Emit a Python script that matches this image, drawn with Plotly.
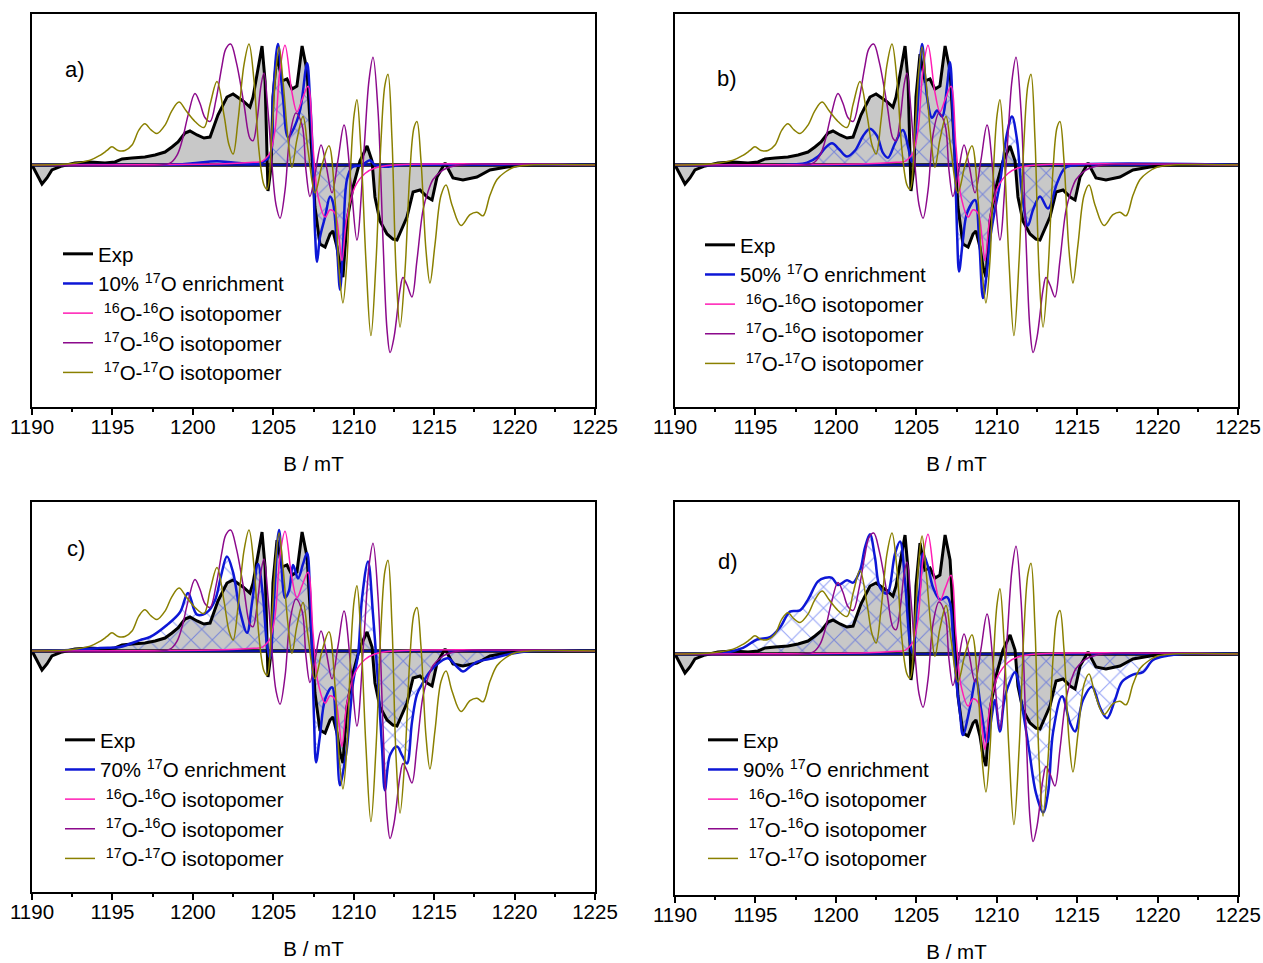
import plotly.graph_objects as go

# ---------------- data (B in mT, normalised derivative amplitude) ----------------
exp_B = [1190.00, 1190.62, 1190.93, 1191.24, 1191.87, 1192.67, 1193.61, 1194.54, 1195.16, 1195.60,
         1196.22, 1197.02, 1197.65, 1198.27, 1198.70, 1199.08, 1199.51, 1199.82, 1200.26, 1200.69,
         1201.07, 1201.56, 1202.12, 1202.50, 1203.12, 1203.55, 1203.74, 1204.05, 1204.30, 1204.49,
         1204.61, 1204.67, 1204.86, 1204.98, 1205.23, 1205.54, 1205.85, 1206.16, 1206.47, 1206.79,
         1207.10, 1207.28, 1207.59, 1207.90, 1208.22, 1208.53, 1208.71, 1208.96, 1209.15, 1209.33,
         1209.58, 1209.96, 1210.39, 1210.83, 1211.14, 1211.32, 1211.63, 1212.07, 1212.44, 1212.69,
         1213.31, 1213.69, 1214.12, 1214.56, 1214.87, 1215.18, 1215.68, 1216.17, 1216.79, 1217.66,
         1218.47, 1219.53, 1220.52, 1225.00]
exp_y = [0.0, -0.157, -0.107, -0.041, -0.008, 0.017, 0.025, 0.017, 0.025, 0.05,
         0.058, 0.066, 0.083, 0.107, 0.149, 0.19, 0.264, 0.281, 0.248, 0.223,
         0.231, 0.413, 0.562, 0.587, 0.529, 0.479, 0.56, 0.81, 0.983, 0.694,
         0.033, -0.215, -0.017, 0.562, 0.917, 0.694, 0.711, 0.628, 0.653, 0.983,
         0.777, 0.364, -0.347, -0.653, -0.678, -0.570, -0.545, -0.678, -0.843, -0.926,
         -0.463, -0.182, 0.033, 0.157, 0.033, -0.264, -0.463, -0.570, -0.612, -0.620,
         -0.430, -0.223, -0.207, -0.264, -0.289, -0.099, 0.017, -0.107, -0.124, -0.099,
         -0.041, -0.017, 0.0, 0.0]

o1616_B = [1190.0, 1202.0, 1203.5, 1204.30, 1204.49, 1204.80, 1205.11, 1205.42, 1205.73, 1206.16,
           1206.47, 1206.79, 1207.16, 1207.47, 1207.78, 1208.22, 1208.53, 1208.84, 1209.09, 1209.27,
           1209.58, 1210.08, 1210.70, 1211.32, 1212.5, 1225.0]
o1616_y = [0.0, 0.01, 0.02, 0.03, 0.05, 0.10, 0.29, 0.79, 0.99, 0.60,
           0.44, 0.54, 0.65, 0.15, -0.26, -0.43, -0.37, -0.40, -0.60, -0.79,
           -0.43, -0.18, -0.07, -0.025, 0.0, 0.0]

o1716_B = [1190.0, 1198.0, 1198.58, 1199.01, 1199.33, 1199.70, 1200.13, 1200.44, 1200.76, 1201.07,
           1201.44, 1201.81, 1202.05, 1202.35, 1202.70, 1203.18, 1203.55, 1203.74, 1203.99, 1204.24,
           1204.42, 1204.67, 1204.92, 1205.17, 1205.42, 1205.73, 1206.04, 1206.41, 1206.79, 1207.03,
           1207.28, 1207.59, 1207.97, 1208.28, 1208.65, 1209.02, 1209.40, 1209.83, 1210.20, 1210.64,
           1210.95, 1211.20, 1211.51, 1211.82, 1212.07, 1212.26, 1212.51, 1212.88, 1213.06, 1213.31,
           1213.62, 1213.93, 1214.31, 1214.62, 1214.93, 1215.36, 1215.80, 1216.61, 1225.0]
o1716_y = [0.0, 0.0, 0.015, 0.08, 0.20, 0.41, 0.59, 0.51, 0.39, 0.36,
           0.54, 0.82, 0.96, 1.0, 0.85, 0.50, 0.22, 0.20, 0.37, 0.66,
           0.76, 0.45, 0.0, -0.33, -0.44, -0.21, 0.25, 0.43, 0.33, -0.04,
           -0.26, -0.08, 0.165, 0.0, -0.23, 0.04, 0.33, -0.15, -0.62, 0.12,
           0.70, 0.89, 0.45, -0.62, -1.36, -1.55, -1.42, -1.03, -0.93, -0.99,
           -1.09, -0.79, -0.37, -0.22, -0.12, -0.06, -0.025, 0.0, 0.0]

o1717_B = [1190.0, 1192.36, 1193.61, 1194.23, 1194.66, 1194.97, 1195.35, 1195.78, 1196.22, 1196.65,
           1197.02, 1197.40, 1197.77, 1198.27, 1198.70, 1199.14, 1199.57, 1200.13, 1200.69, 1201.07,
           1201.50, 1201.94, 1202.25, 1202.50, 1202.81, 1203.18, 1203.49, 1203.80, 1204.11, 1204.42,
           1204.61, 1204.92, 1205.17, 1205.36, 1205.60, 1205.92, 1206.16, 1206.47, 1206.85, 1207.16,
           1207.59, 1208.03, 1208.46, 1208.84, 1209.09, 1209.33, 1209.58, 1209.83, 1210.02, 1210.20,
           1210.45, 1210.76, 1211.07, 1211.39, 1211.70, 1211.94, 1212.13, 1212.38, 1212.63, 1212.88,
           1213.19, 1213.50, 1213.75, 1213.93, 1214.18, 1214.49, 1214.74, 1215.05, 1215.43, 1215.74,
           1216.11, 1216.67, 1217.23, 1217.66, 1218.04, 1218.47, 1218.91, 1219.40, 1220.03, 1220.96,
           1225.0]
o1717_y = [0.0, 0.01, 0.04, 0.08, 0.12, 0.15, 0.12, 0.12, 0.165, 0.29,
           0.34, 0.29, 0.26, 0.33, 0.45, 0.52, 0.45, 0.36, 0.31, 0.50,
           0.69, 0.41, 0.165, 0.09, 0.37, 0.83, 1.0, 0.70, 0.12, -0.165,
           -0.20, 0.29, 0.79, 0.975, 0.70, 0.21, -0.02, 0.21, 0.40, 0.12,
           -0.23, 0.0, 0.16, -0.29, -0.87, -1.14, -0.79, 0.04, 0.41, 0.54,
           0.12, -0.79, -1.41, -0.79, 0.21, 0.66, 0.75, 0.21, -0.87, -1.34,
           -0.87, -0.04, 0.31, 0.36, 0.04, -0.70, -0.975, -0.66, -0.25, -0.165,
           -0.33, -0.50, -0.41, -0.39, -0.42, -0.25, -0.12, -0.06, -0.015, 0.0,
           0.0]

enr10_B = [1190.0, 1199.0, 1200.0, 1201.5, 1202.5, 1203.5, 1204.3, 1204.80, 1204.98, 1205.29,
           1205.60, 1205.92, 1206.23, 1206.66, 1207.10, 1207.28, 1207.47, 1207.59, 1207.72, 1207.90,
           1208.22, 1208.53, 1208.71, 1208.96, 1209.15, 1209.33, 1209.58, 1209.89, 1210.52, 1211.01,
           1211.32, 1211.94, 1213.0, 1225.0]
enr10_y = [0.0, 0.005, 0.015, 0.03, 0.02, 0.01, 0.02, 0.08, 0.56, 1.0,
           0.56, 0.23, 0.29, 0.45, 0.84, 0.56, 0.02, -0.54, -0.80, -0.60,
           -0.43, -0.26, -0.31, -0.68, -1.03, -0.68, -0.12, -0.02, 0.0, 0.04,
           0.0, -0.015, 0.0, 0.0]

enr50_B = [1190.0, 1197.34, 1198.21, 1198.89, 1199.33, 1199.76, 1200.20, 1200.69, 1201.19, 1201.69,
           1202.12, 1202.56, 1202.93, 1203.24, 1203.68, 1204.17, 1204.49, 1204.73, 1205.04, 1205.36,
           1205.67, 1205.98, 1206.29, 1206.60, 1206.91, 1207.10, 1207.28, 1207.41, 1207.53, 1207.66,
           1207.90, 1208.15, 1208.65, 1208.90, 1209.15, 1209.40, 1209.58, 1209.89, 1210.20, 1210.64,
           1210.95, 1211.26, 1211.57, 1211.94, 1212.26, 1212.69, 1213.19, 1213.75, 1214.25, 1215.0,
           1225.0]
enr50_y = [0.0, 0.005, 0.02, 0.07, 0.14, 0.18, 0.13, 0.07, 0.12, 0.24,
           0.30, 0.24, 0.10, 0.06, 0.18, 0.29, 0.15, 0.025, 0.40, 1.0,
           0.56, 0.39, 0.45, 0.40, 0.65, 0.85, 0.40, 0.0, -0.54, -0.88,
           -0.62, -0.40, -0.29, -0.60, -1.10, -0.87, -0.62, -0.37, -0.15, 0.26,
           0.40, 0.21, -0.23, -0.50, -0.37, -0.26, -0.36, -0.15, -0.025, 0.0,
           0.0]

enr70_B = [1190.0, 1191.74, 1194.23, 1195.47, 1196.71, 1197.34, 1198.39, 1199.20, 1199.70, 1200.26,
           1200.88, 1201.38, 1201.75, 1202.12, 1202.50, 1202.93, 1203.37, 1203.68, 1204.05, 1204.36,
           1204.61, 1204.80, 1205.04, 1205.36, 1205.73, 1205.98, 1206.23, 1206.54, 1206.85, 1207.10,
           1207.28, 1207.41, 1207.53, 1207.66, 1207.90, 1208.22, 1208.65, 1208.90, 1209.15, 1209.40,
           1209.58, 1209.96, 1210.27, 1210.52, 1210.89, 1211.20, 1211.51, 1211.76, 1211.94, 1212.26,
           1212.69, 1213.00, 1213.31, 1213.62, 1213.93, 1214.31, 1214.74, 1215.36, 1215.86, 1216.42,
           1216.79, 1217.23, 1217.66, 1218.66, 1219.72, 1221.0, 1225.0]
enr70_y = [0.0, 0.005, 0.025, 0.033, 0.09, 0.116, 0.215, 0.32, 0.48, 0.30,
           0.32, 0.42, 0.62, 0.78, 0.65, 0.33, 0.15, 0.40, 0.72, 0.45,
           0.05, -0.06, 0.40, 1.0, 0.44, 0.50, 0.71, 0.60, 0.72, 0.81,
           0.50, 0.0, -0.55, -0.92, -0.70, -0.40, -0.30, -0.60, -1.11, -0.95,
           -0.80, -0.26, -0.03, 0.44, 0.74, 0.30, -0.26, -0.80, -1.15, -0.86,
           -0.79, -0.86, -0.93, -0.59, -0.36, -0.26, -0.17, -0.09, -0.06, -0.13,
           -0.17, -0.13, -0.09, -0.06, -0.025, 0.0, 0.0]

enr90_B = [1190.0, 1191.74, 1192.98, 1194.23, 1195.10, 1195.91, 1196.53, 1197.15, 1197.77, 1198.27,
           1198.89, 1199.33, 1199.76, 1200.13, 1200.69, 1201.07, 1201.50, 1201.81, 1202.12, 1202.43,
           1202.74, 1203.18, 1203.68, 1203.99, 1204.30, 1204.61, 1204.80, 1205.04, 1205.23, 1205.42,
           1205.73, 1206.04, 1206.47, 1206.91, 1207.10, 1207.28, 1207.47, 1207.72, 1207.90, 1208.34,
           1208.71, 1209.02, 1209.40, 1209.71, 1209.89, 1210.20, 1210.45, 1210.70, 1211.14, 1211.57,
           1212.01, 1212.44, 1212.88, 1213.19, 1213.50, 1214.06, 1214.56, 1214.87, 1215.36, 1215.92,
           1216.42, 1216.86, 1217.35, 1217.79, 1218.47, 1219.09, 1219.72, 1220.59, 1221.5, 1225.0]
enr90_y = [0.0, 0.0, 0.005, 0.05, 0.12, 0.14, 0.22, 0.35, 0.36, 0.45,
           0.60, 0.63, 0.63, 0.57, 0.61, 0.59, 0.69, 0.88, 0.99, 0.80,
           0.55, 0.50, 0.83, 0.93, 0.60, 0.09, 0.0, 0.40, 0.55, 0.83,
           0.72, 0.55, 0.45, 0.47, 0.42, 0.15, -0.20, -0.49, -0.67, -0.44,
           -0.21, -0.45, -0.73, -0.50, -0.38, -0.64, -0.40, -0.27, -0.15, -0.43,
           -0.79, -1.15, -1.31, -1.15, -0.65, -0.35, -0.57, -0.64, -0.38, -0.27,
           -0.44, -0.53, -0.38, -0.23, -0.17, -0.15, -0.05, -0.015, 0.0, 0.0]

panel_labels = ["a)", "b)", "c)", "d)"]
enrichments = ["10%", "50%", "70%", "90%"]
enr_B = [enr10_B, enr50_B, enr70_B, enr90_B]
enr_y = [enr10_y, enr50_y, enr70_y, enr90_y]
x_ticks = [1190, 1195, 1200, 1205, 1210, 1215, 1220, 1225]

# ---------------- styling / layout ----------------
W, H = 1263, 963
OFF = 0  # body margin is removed in the page (post_script below)
FONT = "Arial, 'Liberation Sans', sans-serif"
C_EXP, C_BLUE, C_PINK, C_PURP, C_OLIVE = "#000000", "#0d17d6", "#ff1cb4", "#8c0a8c", "#8a8000"
FS = 20.5

# panel pixel boxes (screen px): (left, right, top, bottom, baseline)
boxes = [(32, 595, 14, 407, 165), (675, 1238, 14, 407, 165),
         (32, 595, 502, 892, 651), (675, 1238, 502, 895, 654)]
legend_px = [(58, 234), (700, 225), (60, 720), (703, 720)]
label_px = [(75, 70), (727, 79), (76, 548), (728, 561)]
UNIT = 121.0  # px per amplitude unit


def px2x(p):
    return (p - OFF) / W


def py2y(p):
    return 1 - (p - OFF) / H


fig = go.Figure()
layout = dict(width=W, height=H, margin=dict(l=0, r=0, t=0, b=0),
              paper_bgcolor="white", plot_bgcolor="white",
              font=dict(family=FONT, size=FS, color="black"),
              annotations=[])

iso_names = ["\u00a0<sup>16</sup>O-<sup>16</sup>O isotopomer",
             "\u00a0<sup>17</sup>O-<sup>16</sup>O isotopomer",
             "\u00a0<sup>17</sup>O-<sup>17</sup>O isotopomer"]

for i in range(4):
    sfx = "" if i == 0 else str(i + 1)
    xa, ya = "x" + sfx, "y" + sfx
    lg = "legend" + sfx
    L, R, T, B, base = boxes[i]
    ymax = (base - T) / UNIT
    ymin = (base - B) / UNIT
    common = dict(xaxis=xa, yaxis=ya, hoverinfo="skip")
    # grey filled experimental area
    fig.add_trace(go.Scatter(x=exp_B, y=exp_y, mode="lines", fill="tozeroy",
                             fillcolor="#c8c8c8", line=dict(width=0, color="#c8c8c8"),
                             showlegend=False, **common))
    # hatched simulation area
    fig.add_trace(go.Scatter(x=enr_B[i], y=enr_y[i], mode="lines", fill="tozeroy",
                             line_shape="spline", fillcolor="rgba(0,0,0,0)",
                             fillpattern=dict(shape="x", fgcolor="rgba(25,55,235,0.9)",
                                              bgcolor="rgba(0,0,0,0)", size=15, solidity=0.14),
                             line=dict(width=0, color=C_BLUE), showlegend=False, **common))
    # baselines
    fig.add_trace(go.Scatter(x=[x_ticks[0], x_ticks[-1]], y=[0, 0], mode="lines",
                             line=dict(color="black", width=3.5), showlegend=False, **common))
    fig.add_trace(go.Scatter(x=[x_ticks[0], x_ticks[-1]], y=[0, 0], mode="lines",
                             line=dict(color=C_BLUE, width=1.6), showlegend=False, **common))
    # lines with legend
    fig.add_trace(go.Scatter(x=exp_B, y=exp_y, mode="lines", name="Exp",
                             line=dict(color=C_EXP, width=3), legend=lg, legendgroup=f"e{i}", **common))
    fig.add_trace(go.Scatter(x=enr_B[i], y=enr_y[i], mode="lines", line_shape="spline",
                             name=f"{enrichments[i]} <sup>17</sup>O enrichment",
                             line=dict(color=C_BLUE, width=2.5), legend=lg, legendgroup=f"b{i}", **common))
    for name, bx, by, col, g in [(iso_names[0], o1616_B, o1616_y, C_PINK, "p"),
                                 (iso_names[1], o1716_B, o1716_y, C_PURP, "u"),
                                 (iso_names[2], o1717_B, o1717_y, C_OLIVE, "o")]:
        fig.add_trace(go.Scatter(x=bx, y=by, mode="lines", line_shape="spline", name=name,
                                 line=dict(color=col, width=1.5), legend=lg,
                                 legendgroup=f"{g}{i}", **common))

    layout["xaxis" + sfx] = dict(domain=[px2x(L), px2x(R)], range=[1190, 1225], anchor=ya,
                                 tickmode="array", tickvals=x_ticks, ticks="outside", ticklen=6,
                                 tickwidth=1.5, tickcolor="black", ticklabelstandoff=-5,
                                 minor=dict(dtick=2.5, tick0=1190, ticks="outside", ticklen=3.5,
                                            tickwidth=1.5, tickcolor="black"),
                                 showline=True, linecolor="black", linewidth=1.5, mirror=True,
                                 showgrid=False, zeroline=False, automargin=False,
                                 tickfont=dict(size=FS, family=FONT),
                                 title=dict(text="B / mT", font=dict(size=FS, family=FONT), standoff=19))
    layout["yaxis" + sfx] = dict(domain=[py2y(B), py2y(T)], range=[ymin, ymax], anchor=xa,
                                 showticklabels=False, ticks="", showline=True, linecolor="black",
                                 linewidth=1.5, mirror=True, showgrid=False, zeroline=False,
                                 automargin=False)
    lx, ly = legend_px[i]
    layout[lg] = dict(x=px2x(lx), y=py2y(ly), xanchor="left", yanchor="top",
                      bgcolor="rgba(0,0,0,0)", borderwidth=0, tracegroupgap=0,
                      font=dict(size=FS, family=FONT, color="black"))
    ax, ay = label_px[i]
    layout["annotations"].append(dict(text=panel_labels[i], xref="paper", yref="paper",
                                      x=px2x(ax), y=py2y(ay), xanchor="center", yanchor="middle",
                                      showarrow=False,
                                      font=dict(size=22, family=FONT, color="black")))

fig.update_layout(**layout)
fig.write_html("out.html", config={"displayModeBar": False},
               post_script="document.body.style.margin='0px';document.body.style.overflow='hidden';")
